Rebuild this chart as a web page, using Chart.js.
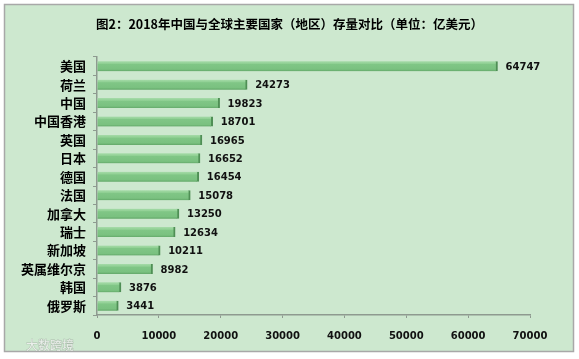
<!DOCTYPE html>
<html><head><meta charset="utf-8">
<script src="https://cdn.jsdelivr.net/npm/chart.js@4/dist/chart.umd.min.js"></script>
<style>html,body{margin:0;padding:0;background:#fff;}#wrap{width:579px;height:359px;position:relative;}</style>
</head><body><div id="wrap"><canvas id="c" width="579" height="359"></canvas></div>
<script>
const chartTitle = '图2：2018年中国与全球主要国家（地区）存量对比（单位：亿美元）';
const categories = ['美国','荷兰','中国','中国香港','英国','日本','德国','法国','加拿大','瑞士','新加坡','英属维尔京','韩国','俄罗斯'];
const values = [64747,24273,19823,18701,16965,16652,16454,15078,13250,12634,10211,8982,3876,3441];
const xTickMin = 0, xTickMax = 70000, xTickStep = 10000;
const watermark = '大数跨境';

const BAR_T = 10;
const bgPlugin = {
  id: 'bg',
  beforeDraw(chart) {
    const ctx = chart.ctx;
    ctx.save();
    ctx.fillStyle = '#ffffff';
    ctx.fillRect(0, 0, chart.width, chart.height);
    ctx.fillStyle = '#CDE8CF';
    ctx.fillRect(4, 4, 570, 348);
    ctx.strokeStyle = '#A8A8A8';
    ctx.lineWidth = 1.5;
    ctx.strokeRect(4.5, 4.5, 569, 347);
    ctx.restore();
  },
  afterDraw(chart) {
    const ctx = chart.ctx;
    ctx.save();
    ctx.font = '12px "Noto Sans CJK SC"';
    ctx.textBaseline = 'middle';
    ctx.fillStyle = 'rgba(255,255,255,0.75)';
    ctx.strokeStyle = 'rgba(150,160,150,0.6)';
    ctx.lineWidth = 0.8;
    ctx.strokeText(watermark, 26, 345);
    ctx.fillText(watermark, 26, 345);
    ctx.restore();
  }
};
const labelPlugin = {
  id: 'vals',
  afterDatasetsDraw(chart) {
    const ctx = chart.ctx;
    const meta = chart.getDatasetMeta(0);
    ctx.save();
    ctx.font = 'bold 10px "DejaVu Sans"';
    ctx.fillStyle = '#111';
    ctx.textAlign = 'left';
    ctx.textBaseline = 'middle';
    meta.data.forEach((el, i) => {
      ctx.fillText(String(values[i]), el.x + 8, el.y + 1);
    });
    ctx.restore();
  }
};

function barColor(c) {
  const ys = c.chart.scales && c.chart.scales.y;
  if (!ys || c.dataIndex === undefined) return '#7DC483';
  const cy = ys.getPixelForValue(c.dataIndex);
  if (!isFinite(cy)) return '#7DC483';
  const g = c.chart.ctx.createLinearGradient(0, cy - BAR_T / 2, 0, cy + BAR_T / 2);
  g.addColorStop(0, '#A6DBA9');
  g.addColorStop(0.25, '#8ECF92');
  g.addColorStop(0.3, '#80C686');
  g.addColorStop(0.8, '#7AC180');
  g.addColorStop(1, '#63A869');
  return g;
}

new Chart(document.getElementById('c'), {
  type: 'bar',
  data: {
    labels: categories,
    datasets: [{
      data: values,
      backgroundColor: barColor,
      borderColor: '#4F8F55',
      borderWidth: {top: 0, bottom: 0, left: 0, right: 2},
      borderSkipped: false,
      barThickness: BAR_T
    }]
  },
  plugins: [bgPlugin, labelPlugin],
  options: {
    indexAxis: 'y',
    responsive: false,
    animation: false,
    devicePixelRatio: 1,
    layout: {padding: {left: 16, right: 16, top: 0, bottom: 0}},
    plugins: {
      legend: {display: false},
      tooltip: {enabled: false},
      title: {
        display: true,
        text: chartTitle,
        color: '#000',
        font: {family: '"Noto Sans CJK SC"', size: 12.5, weight: 'bold'},
        padding: {top: 17, bottom: 25}
      }
    },
    scales: {
      x: {
        min: xTickMin, max: xTickMax,
        afterFit(s) { s.height = 44; },
        border: {display: true, color: '#8E9A90', width: 1.5},
        grid: {drawOnChartArea: false, drawTicks: true, tickLength: 3, color: '#8E9A90'},
        ticks: {stepSize: xTickStep, padding: 12, color: '#111', callback: v => String(v), font: {family: '"DejaVu Sans"', size: 10, weight: 'bold'}}
      },
      y: {
        afterFit(s) { s.width = 81; },
        border: {display: true, color: '#8E9A90', width: 1.5},
        grid: {drawOnChartArea: false, drawTicks: true, tickLength: 4, color: '#8E9A90'},
        ticks: {autoSkip: false, padding: 7, color: '#000', font: {family: '"Noto Sans CJK SC"', size: 13, weight: 'bold'}}
      },
      yr: {
        type: 'linear',
        position: 'right',
        display: true,
        afterFit(s) { s.width = 33; },
        border: {display: false},
        grid: {display: false},
        ticks: {display: false}
      }
    }
  }
});
</script></body></html>
